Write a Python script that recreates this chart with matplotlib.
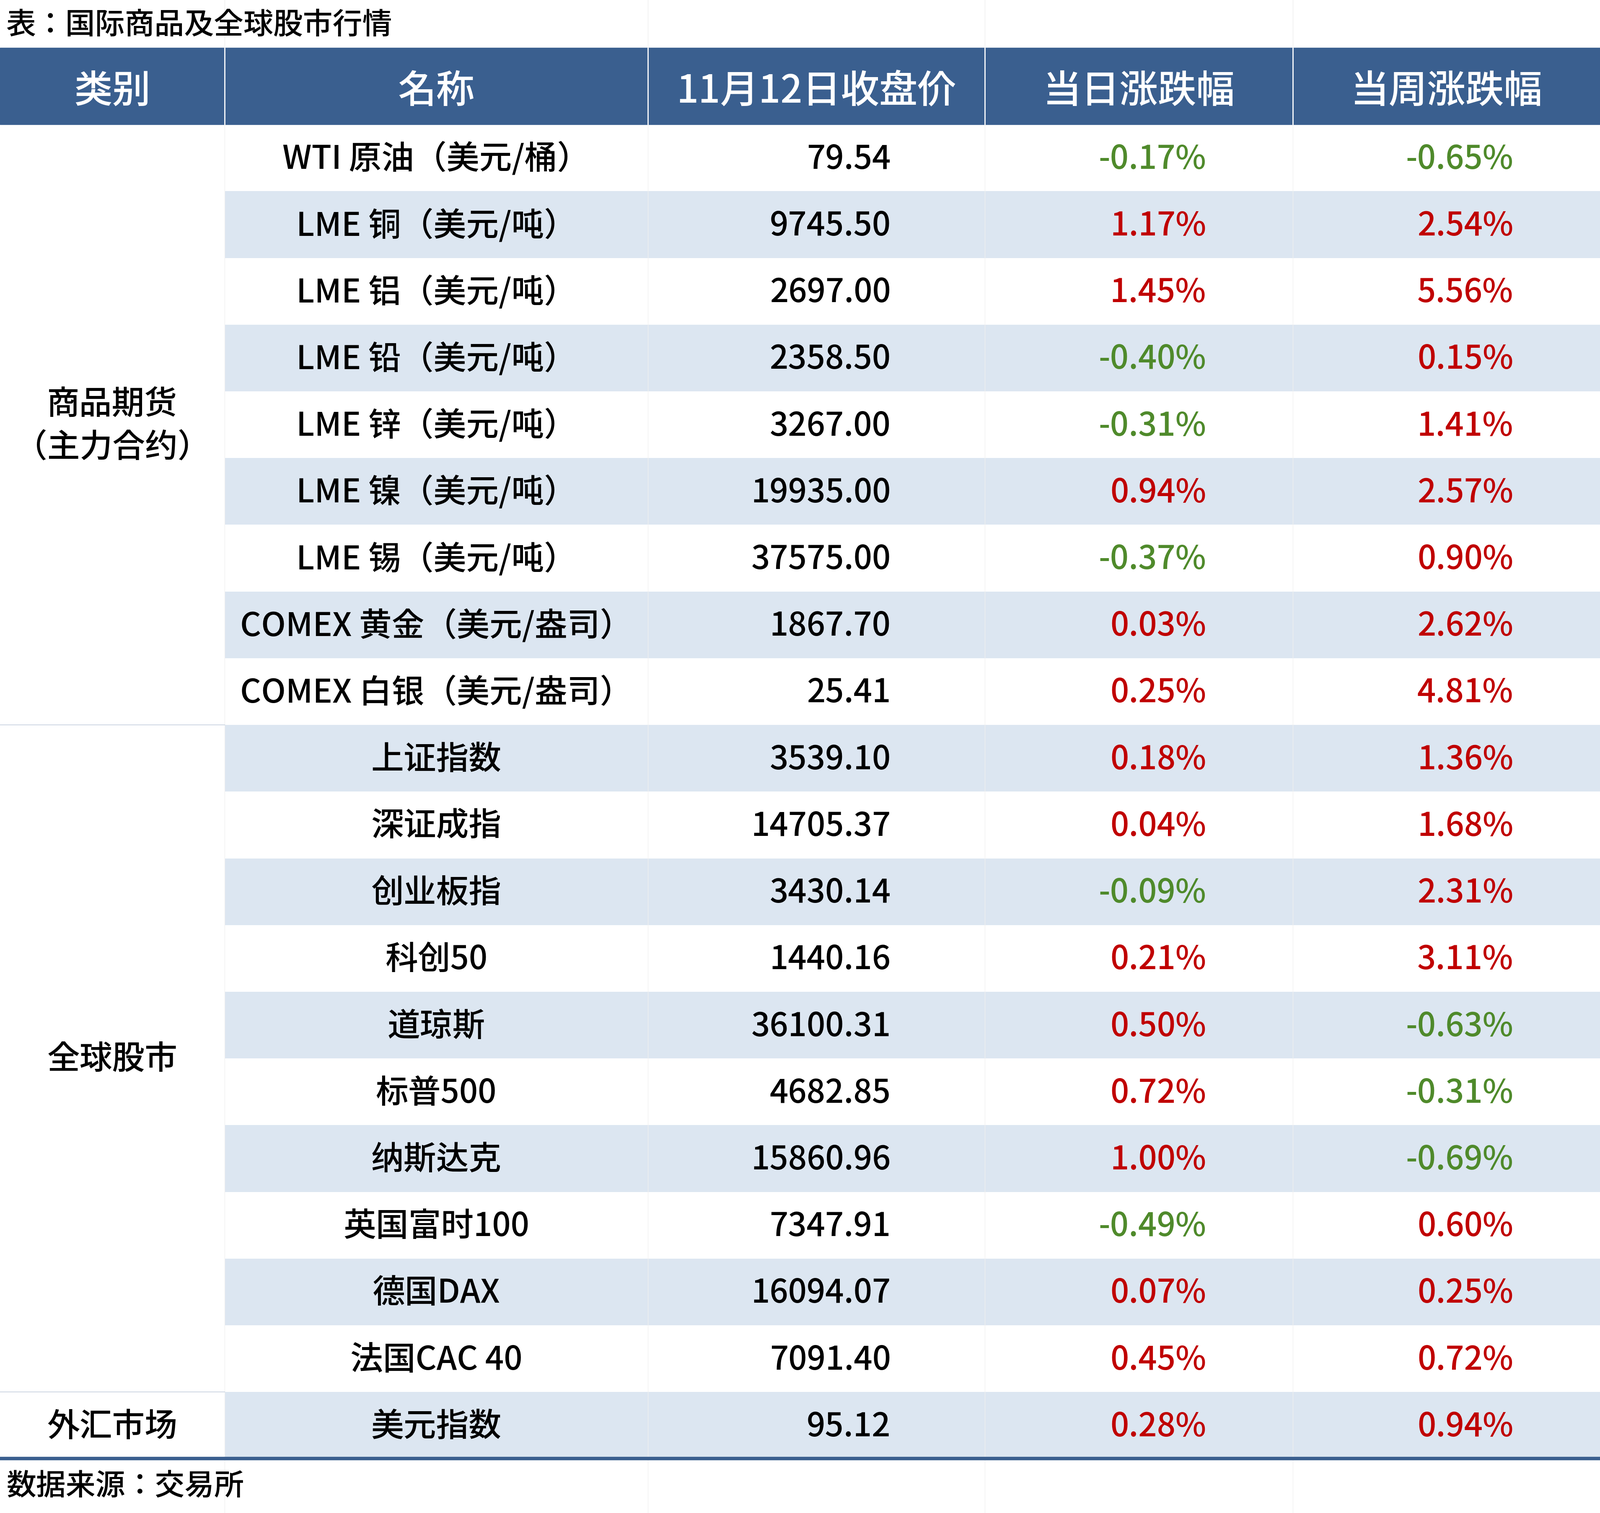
import matplotlib.pyplot as plt
from matplotlib.patches import Rectangle

plt.rcParams['font.family'] = ['Noto Sans CJK SC', 'Noto Sans CJK JP', 'DejaVu Sans']
plt.rcParams['font.weight'] = 'medium'

title = '表：国际商品及全球股市行情'
source = '数据来源：交易所'
headers = ['类别', '名称', '11月12日收盘价', '当日涨跌幅', '当周涨跌幅']
groups = [('商品期货\n（主力合约）', 9), ('全球股市', 10), ('外汇市场', 1)]
names = ['WTI 原油（美元/桶）', 'LME 铜（美元/吨）', 'LME 铝（美元/吨）', 'LME 铅（美元/吨）',
         'LME 锌（美元/吨）', 'LME 镍（美元/吨）', 'LME 锡（美元/吨）',
         'COMEX 黄金（美元/盎司）', 'COMEX 白银（美元/盎司）',
         '上证指数', '深证成指', '创业板指', '科创50', '道琼斯', '标普500', '纳斯达克',
         '英国富时100', '德国DAX', '法国CAC 40', '美元指数']
prices = ['79.54', '9745.50', '2697.00', '2358.50', '3267.00', '19935.00', '37575.00',
          '1867.70', '25.41', '3539.10', '14705.37', '3430.14', '1440.16', '36100.31',
          '4682.85', '15860.96', '7347.91', '16094.07', '7091.40', '95.12']
day_chg = [-0.17, 1.17, 1.45, -0.40, -0.31, 0.94, -0.37, 0.03, 0.25,
           0.18, 0.04, -0.09, 0.21, 0.50, 0.72, 1.00, -0.49, 0.07, 0.45, 0.28]
week_chg = [-0.65, 2.54, 5.56, 0.15, 1.41, 2.57, 0.90, 2.62, 4.81,
            1.36, 1.68, 2.31, 3.11, -0.63, -0.31, -0.69, 0.60, 0.25, 0.72, 0.94]

W, H = 1568, 1478
cols = [0, 220, 635, 965, 1267, 1568]
head_top, head_bot = 47, 122
row_h = (1425 - head_bot) / len(names)
blue = '#3a5f8f'
shade = '#dce6f1'
red = '#c00000'
green = '#4f8a2b'
fs = 56

fig = plt.figure(figsize=(38.18, 36.12), dpi=100)
ax = fig.add_axes([0, 0, 1, 1])
ax.set_xlim(0, W)
ax.set_ylim(H, 0)
ax.axis('off')

ax.text(6, 25, title, fontsize=51, va='center', ha='left')
ax.add_patch(Rectangle((0, head_top), W, head_bot - head_top, color=blue))
for i, h in enumerate(headers):
    ax.text((cols[i] + cols[i + 1]) / 2, (head_top + head_bot) / 2 + 5, h, color='white',
            fontsize=66, ha='center', va='center')
for x in cols[1:-1]:
    ax.plot([x, x], [head_top, head_bot], color='white', lw=2)
    ax.plot([x, x], [0, head_top], color='#eeeeee', lw=1)
    ax.plot([x, x], [head_bot, 1478], color='#f0f0f0', lw=1)

for i in range(len(names)):
    y0 = head_bot + i * row_h
    yc = y0 + row_h / 2 + 1
    if i % 2 == 1:
        ax.add_patch(Rectangle((cols[1], y0), W - cols[1], row_h, color=shade, lw=0))
    ax.text((cols[1] + cols[2]) / 2, yc, names[i], fontsize=fs, ha='center', va='center')
    ax.text(873, yc, prices[i], fontsize=fs, ha='right', va='center')
    ax.text(1182, yc, f'{day_chg[i]:.2f}%', fontsize=fs, ha='right', va='center',
            color=red if day_chg[i] >= 0 else green)
    ax.text(1483, yc, f'{week_chg[i]:.2f}%', fontsize=fs, ha='right', va='center',
            color=red if week_chg[i] >= 0 else green)

start = 0
for label, n in groups:
    y0 = head_bot + start * row_h
    y1 = y0 + n * row_h
    ax.text(110, (y0 + y1) / 2 + 1, label, fontsize=fs, ha='center', va='center', linespacing=1.4)
    if start > 0:
        ax.plot([0, cols[1]], [y0, y0], color='#d0d8e4', lw=1.5)
    start += n

ax.plot([0, W], [1425, 1425], color=blue, lw=6)
ax.text(6, 1452, source, fontsize=51, va='center', ha='left')

fig.savefig('out.png', dpi=100)
